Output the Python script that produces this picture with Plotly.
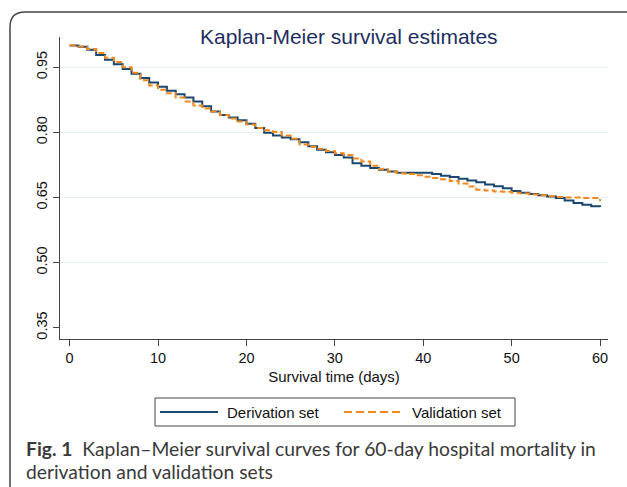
import plotly.graph_objects as go

# ---------------- data ----------------
days = list(range(0, 61))
derivation = [1.000, 0.997, 0.990, 0.978, 0.967, 0.957, 0.946, 0.935, 0.925, 0.915,
              0.905, 0.896, 0.888, 0.880, 0.871, 0.860, 0.848, 0.840, 0.834, 0.828,
              0.820, 0.810, 0.799, 0.793, 0.788, 0.784, 0.777, 0.768, 0.760, 0.754,
              0.748, 0.742, 0.729, 0.723, 0.718, 0.714, 0.710, 0.707, 0.707, 0.707,
              0.707, 0.704, 0.700, 0.697, 0.693, 0.689, 0.685, 0.680, 0.676, 0.671,
              0.665, 0.661, 0.658, 0.655, 0.652, 0.649, 0.643, 0.637, 0.633, 0.630,
              0.628]
validation = [1.000, 0.998, 0.992, 0.983, 0.972, 0.962, 0.950, 0.937, 0.920, 0.908,
              0.898, 0.890, 0.880, 0.871, 0.862, 0.855, 0.848, 0.840, 0.832, 0.825,
              0.818, 0.810, 0.805, 0.801, 0.793, 0.785, 0.772, 0.767, 0.762, 0.757,
              0.752, 0.748, 0.740, 0.733, 0.723, 0.715, 0.710, 0.706, 0.704, 0.701,
              0.698, 0.695, 0.692, 0.688, 0.682, 0.675, 0.668, 0.666, 0.664, 0.663,
              0.661, 0.659, 0.657, 0.655, 0.653, 0.651, 0.650, 0.650, 0.649, 0.649,
              0.641]
series_names = ["Derivation set", "Validation set"]
x_ticks = [0, 10, 20, 30, 40, 50, 60]
y_ticks = [0.35, 0.50, 0.65, 0.80, 0.95]
y_tick_labels = ["0.35", "0.50", "0.65", "0.80", "0.95"]
grid_values = [0.50, 0.65, 0.80, 0.95]
title_text = "Kaplan-Meier survival estimates"
x_title = "Survival time (days)"
caption_1 = "<b>Fig. 1</b>  Kaplan–Meier survival curves for 60-day hospital mortality in"
caption_2 = "derivation and validation sets"

# ---------------- layout helpers ----------------
W, H = 627, 487
L, R, T, B = 60, 19, 37, 148
PW, PH = W - L - R, H - T - B


def px(x):
    return (x - L) / PW


def py(y):
    return (H - B - y) / PH


BLUE = "#1a476f"
ORANGE = "#f0891e"
FONT = "Arial, Liberation Sans, sans-serif"
CAP_FONT = "Lato, Open Sans, sans-serif"

fig = go.Figure()
fig.add_trace(go.Scatter(x=days, y=derivation, mode="lines", line_shape="hv",
                         name=series_names[0], line=dict(color=BLUE, width=2)))
fig.add_trace(go.Scatter(x=days, y=validation, mode="lines", line_shape="hv",
                         name=series_names[1],
                         line=dict(color=ORANGE, width=2, dash="6px,3px")))

shapes = []
for g in grid_values:
    shapes.append(dict(type="line", xref="paper", yref="y", x0=0, x1=1, y0=g, y1=g,
                       line=dict(color="#e6eff1", width=1), layer="below"))

# frame (rounded top-left corner, cropped at right/bottom)
fx, fy, r = 10, 12, 15
path = (f"M {px(fx)},{py(H + 40)} L {px(fx)},{py(fy + r)} "
        f"Q {px(fx)},{py(fy)} {px(fx + r)},{py(fy)} L {px(W + 40)},{py(fy)}")
shapes.append(dict(type="path", xref="paper", yref="paper", path=path,
                   line=dict(color="#444444", width=1.5)))

# legend box
shapes.append(dict(type="rect", xref="paper", yref="paper",
                   x0=px(155), x1=px(515), y0=py(426), y1=py(398),
                   line=dict(color="#444444", width=1)))
shapes.append(dict(type="line", xref="paper", yref="paper",
                   x0=px(160), x1=px(218), y0=py(412), y1=py(412),
                   line=dict(color=BLUE, width=2)))
shapes.append(dict(type="line", xref="paper", yref="paper",
                   x0=px(344), x1=px(402), y0=py(412), y1=py(412),
                   line=dict(color=ORANGE, width=2, dash="8px,4px")))

annotations = [
    dict(text=title_text, xref="paper", yref="paper", x=px(349), y=py(36),
         xanchor="center", yanchor="middle", showarrow=False,
         font=dict(family=FONT, size=21, color="#1e2f5e")),
    dict(text=series_names[0], xref="paper", yref="paper", x=px(225), y=py(412),
         xanchor="left", yanchor="middle", showarrow=False,
         font=dict(family=FONT, size=15, color="#111111")),
    dict(text=series_names[1], xref="paper", yref="paper", x=px(410), y=py(412),
         xanchor="left", yanchor="middle", showarrow=False,
         font=dict(family=FONT, size=15, color="#111111")),
    dict(text=caption_1, xref="paper", yref="paper", x=px(24), y=py(448),
         xanchor="left", yanchor="middle", showarrow=False,
         font=dict(family=CAP_FONT, size=19.3, color="#3a3a3a")),
    dict(text=caption_2, xref="paper", yref="paper", x=px(24), y=py(471),
         xanchor="left", yanchor="middle", showarrow=False,
         font=dict(family=CAP_FONT, size=19.3, color="#3a3a3a")),
]

fig.update_layout(
    width=W, height=H,
    margin=dict(l=L, r=R, t=T, b=B, pad=0),
    paper_bgcolor="white", plot_bgcolor="white",
    showlegend=False,
    shapes=shapes, annotations=annotations,
    font=dict(family=FONT, color="#111111"),
)
fig.update_xaxes(range=[-1.09, 60.9], tickvals=x_ticks, ticks="outside", ticklen=6,
                 tickcolor="#444444", showline=True, linecolor="#444444", linewidth=1,
                 showgrid=False, zeroline=False,
                 tickfont=dict(family=FONT, size=14.5, color="#111111"),
                 title=dict(text=x_title, standoff=6,
                            font=dict(family=FONT, size=15, color="#111111")))
fig.update_yaxes(range=[0.324, 1.0196], tickvals=y_ticks, ticktext=y_tick_labels,
                 tickangle=-90, ticks="outside", ticklen=6, tickcolor="#444444",
                 showline=True, linecolor="#444444", linewidth=1,
                 showgrid=False, zeroline=False,
                 tickfont=dict(family=FONT, size=14.5, color="#111111"))

fig.write_html("out.html",
               config={"displayModeBar": False},
               post_script="document.body.style.margin='0';"
                           "document.body.style.overflow='hidden';")
